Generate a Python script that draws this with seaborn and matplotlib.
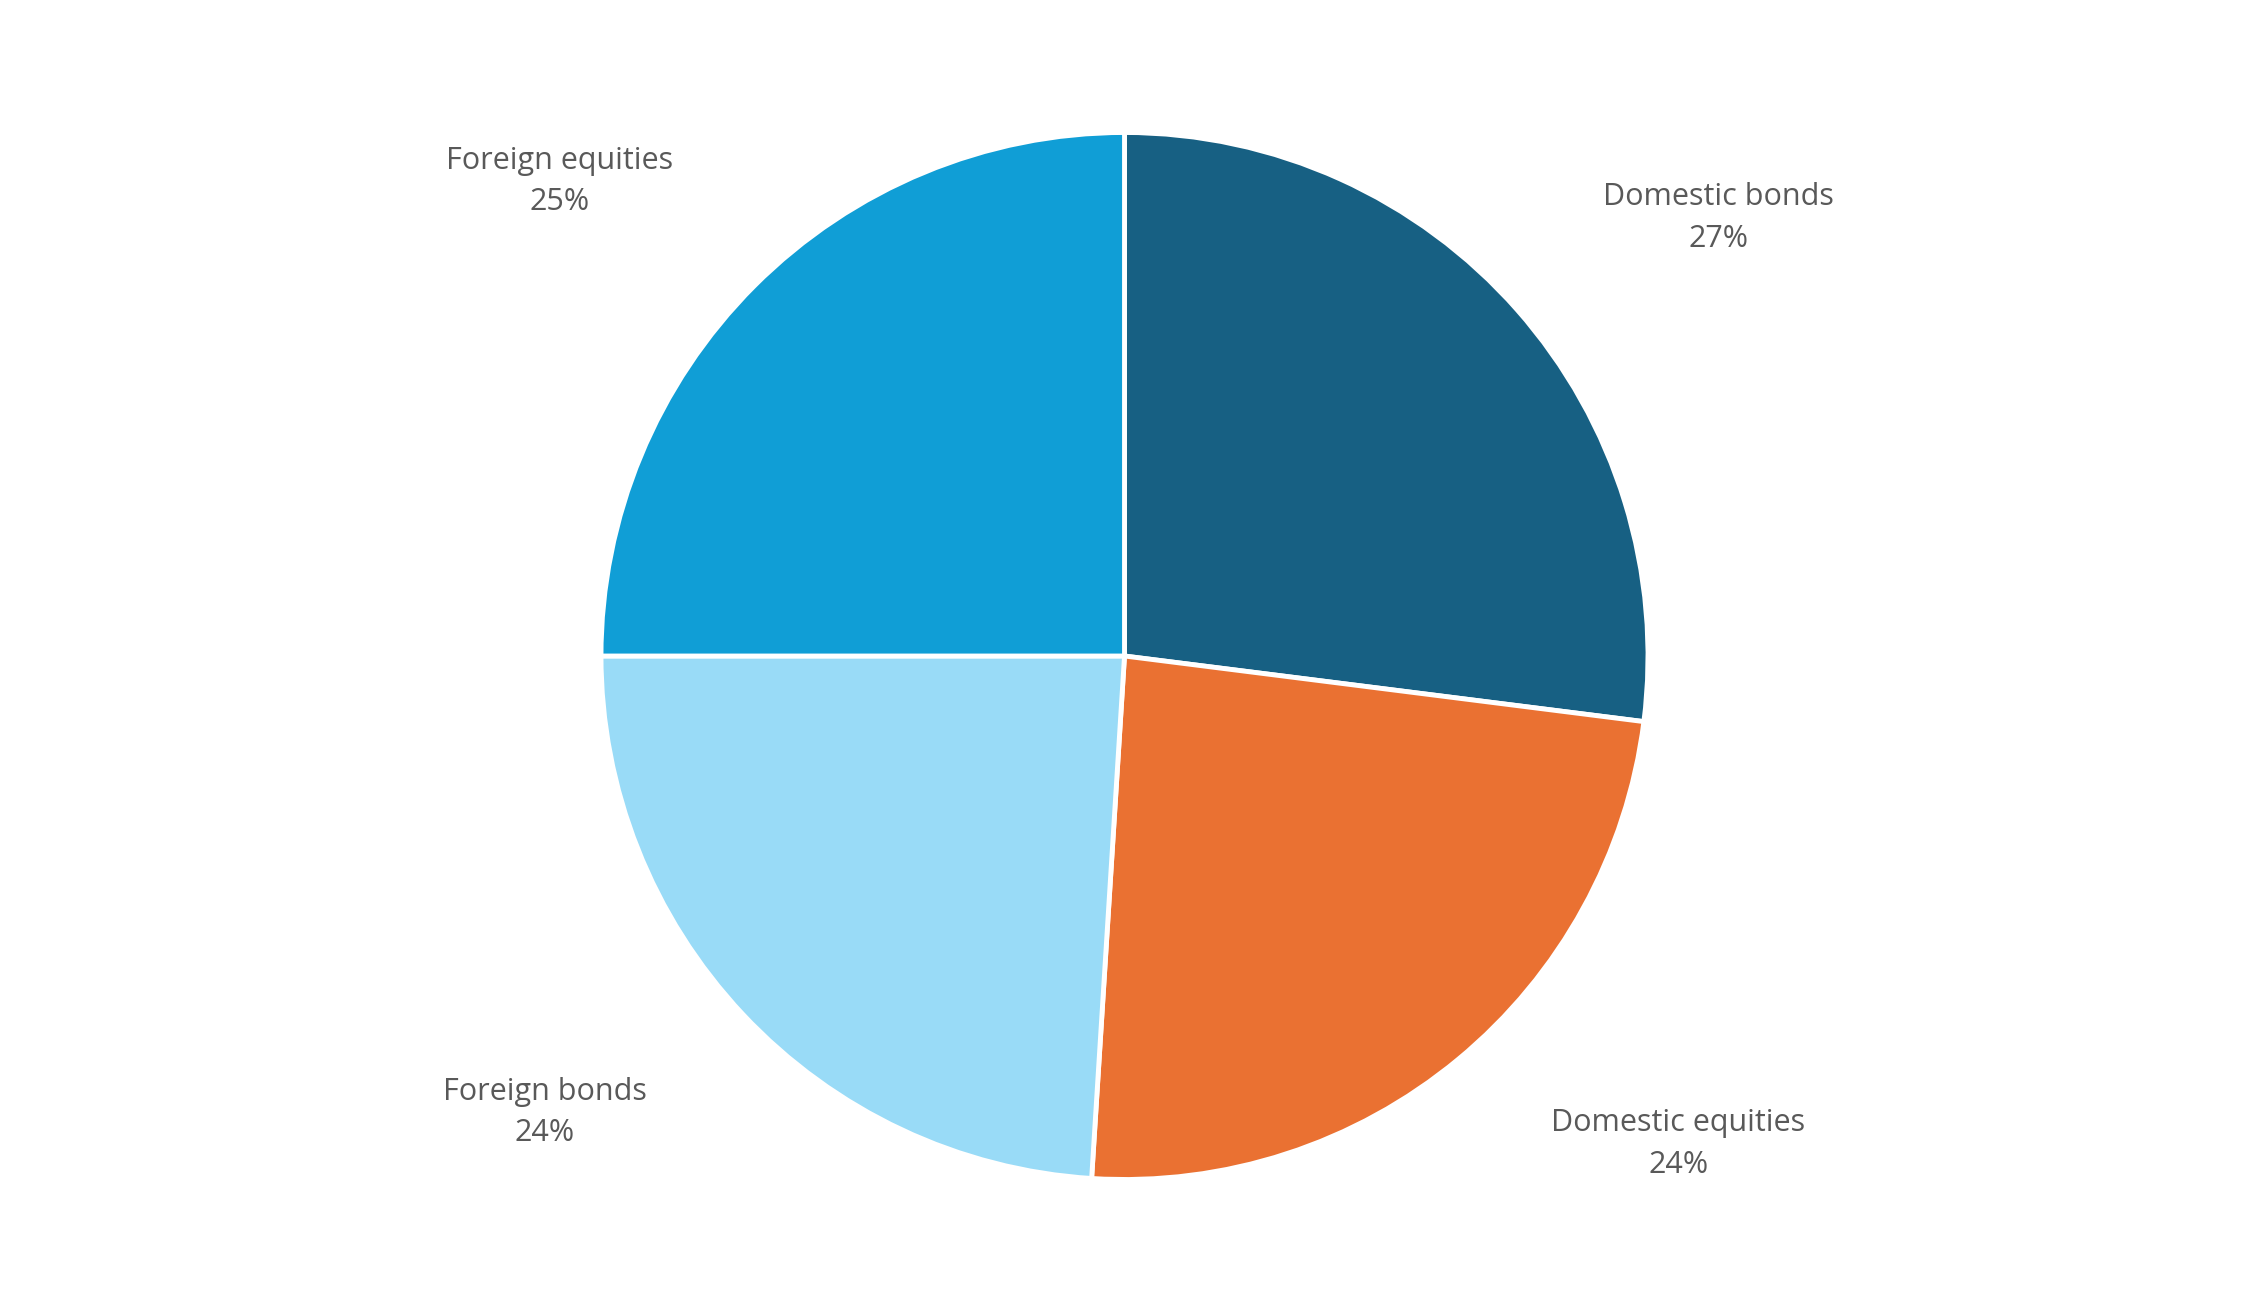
import matplotlib
matplotlib.use("Agg")
import matplotlib.pyplot as plt
import seaborn as sns
import numpy as np

sns.set_theme(style="white")
plt.rcParams['font.family'] = ['Open Sans', 'DejaVu Sans']

categories = ["Domestic bonds", "Domestic equities", "Foreign bonds", "Foreign equities"]
values = [27, 24, 24, 25]
colors = ["#176083", "#EA7132", "#99DBF7", "#109ED6"]

fig = plt.figure(figsize=(22.49, 13.12), dpi=100)
ax = fig.add_axes([0, 0, 1, 1])
wedges, _ = ax.pie(values, colors=colors, startangle=90, counterclock=False,
                   radius=1, center=(0, 0),
                   wedgeprops=dict(edgecolor="white", linewidth=3.5))
half_h = 1 / 0.798
half_w = half_h * 2249 / 1312
ax.set_xlim(-half_w, half_w)
ax.set_ylim(-half_h, half_h)
ax.axis("off")

tweak = [-5, 9, -5, 5]
for w, cat, v, t in zip(wedges, categories, values, tweak):
    ang = np.deg2rad((w.theta1 + w.theta2) / 2 + t)
    x, y = 1.41 * np.cos(ang), 1.41 * np.sin(ang)
    ax.text(x, y, f"{cat}\n{v}%", ha="center", va="center", fontsize=22,
            color="#595959", linespacing=1.5)

fig.savefig("out.png", dpi=100, facecolor="white")
